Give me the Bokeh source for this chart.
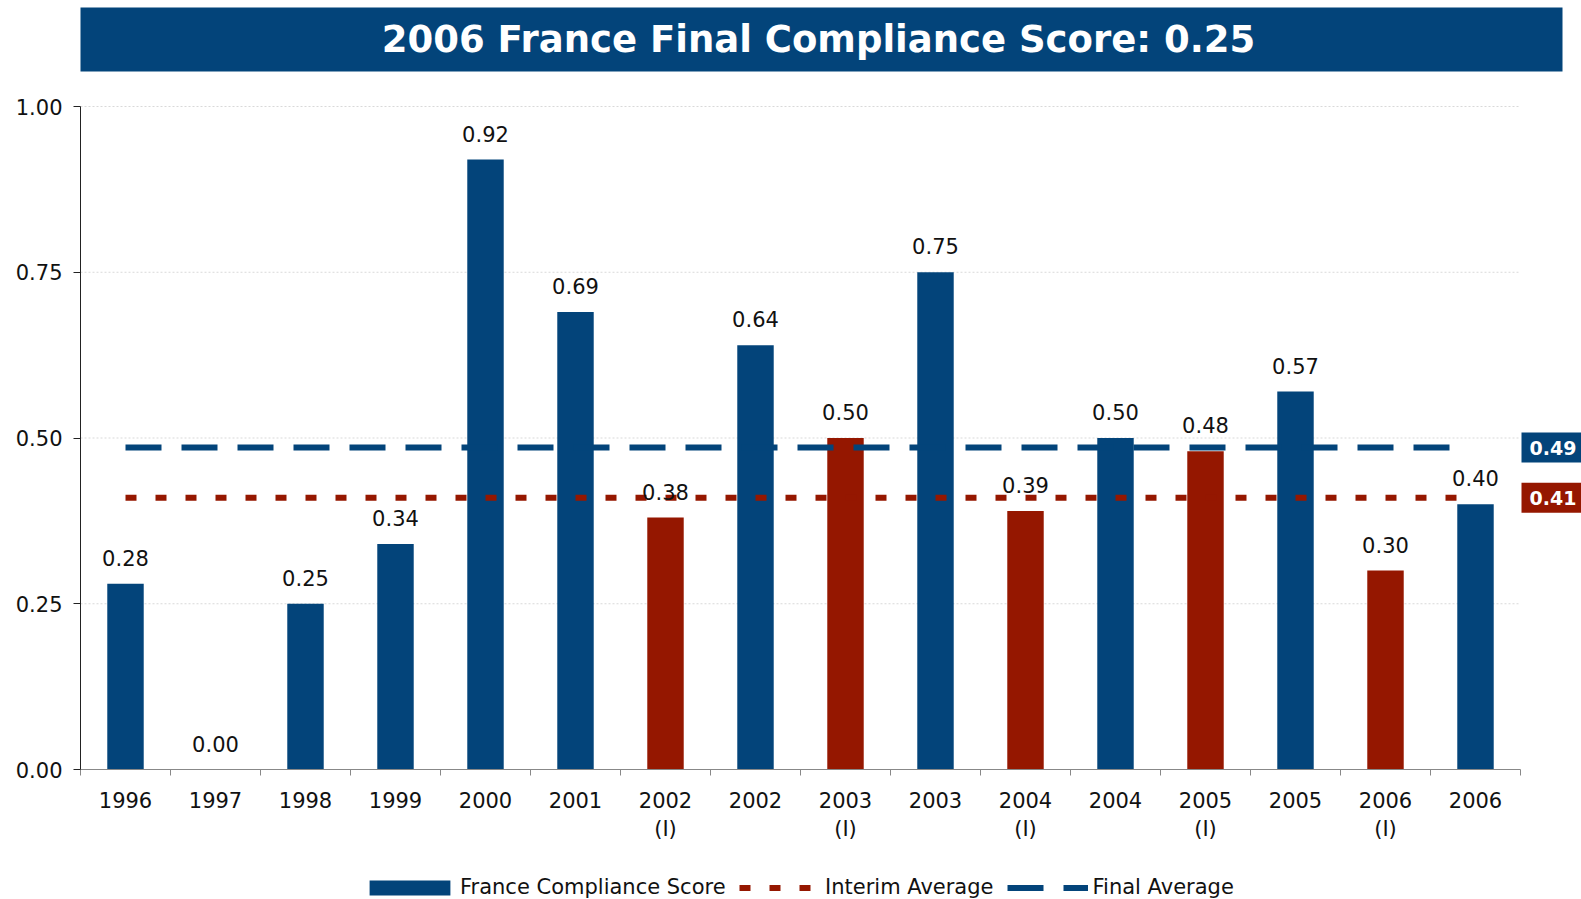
from bokeh.plotting import figure
from bokeh.models import (ColumnDataSource, Range1d, FixedTicker, LinearAxis, LabelSet, Label,
                          Legend, LegendItem, NumeralTickFormatter)
from bokeh.layouts import column
from bokeh.embed import file_html
from bokeh.resources import INLINE
from bokeh.core.properties import value

# ---------------- data ----------------
title_text = "2006 France Final Compliance Score: 0.25"
years = ["1996", "1997", "1998", "1999", "2000", "2001", "2002", "2002",
         "2003", "2003", "2004", "2004", "2005", "2005", "2006", "2006"]
is_interim = [False, False, False, False, False, False, True, False,
              True, False, True, False, True, False, True, False]
scores = [0.28, 0.00, 0.25, 0.34, 0.92, 0.69, 0.38, 0.64,
          0.50, 0.75, 0.39, 0.50, 0.48, 0.57, 0.30, 0.40]
final_average = 0.4855
interim_average = 0.41
y_ticks = [0.0, 0.25, 0.5, 0.75, 1.0]
legend_labels = ["France Compliance Score", "Interim Average", "Final Average"]

# ---------------- style / layout ----------------
BLUE = "#03447A"
RED = "#951700"
FONT = "DejaVu Sans"
W = 1581
H_MAIN = 849
H_LEG = 50
LEFT = 80          # y-axis position (px)
BOTTOM = 769       # x-axis position (px)
CAT_PX = 90        # px per category
UNIT_PX = 663      # px per 1.0 of score
BAR_W = 0.405

n = len(years)
centers = [i + 0.5 for i in range(n)]
bounds = list(range(n + 1))
tick_labels = [y + "\n(I)" if it else y for y, it in zip(years, is_interim)]


def dx(px):  # page pixel -> data x (for decorations only)
    return (px - LEFT) / CAT_PX


def dy(py):  # page pixel -> data y (for decorations only)
    return (BOTTOM - py) / UNIT_PX


# ---------------- main ----------------
p = figure(width=W, height=H_MAIN,
           x_range=Range1d(0, dx(W)), y_range=Range1d(0, dy(0)),
           toolbar_location=None, output_backend="svg",
           x_axis_location=None, y_axis_location=None,
           min_border_left=LEFT, min_border_right=0, min_border_top=0,
           min_border_bottom=H_MAIN - BOTTOM)
p.outline_line_color = None
p.grid.visible = False

xaxis = LinearAxis(ticker=FixedTicker(ticks=centers, minor_ticks=bounds), bounds=(0, n),
                   major_label_overrides={c: t for c, t in zip(centers, tick_labels)},
                   major_tick_line_color=None, major_tick_out=0, major_tick_in=0,
                   minor_tick_out=6, minor_tick_in=0, minor_tick_line_color="#888888",
                   axis_line_color="#888888", major_label_standoff=13,
                   major_label_text_font=FONT, major_label_text_font_size="21px",
                   major_label_text_color="#111111")
p.add_layout(xaxis, "below")

yaxis = LinearAxis(ticker=FixedTicker(ticks=y_ticks), formatter=NumeralTickFormatter(format="0.00"),
                   bounds=(0, 1), major_tick_out=7, major_tick_in=0, minor_tick_line_color=None,
                   axis_line_color="#222222", major_tick_line_color="#222222",
                   major_label_standoff=11, major_label_text_font=FONT,
                   major_label_text_font_size="21px", major_label_text_color="#111111")
p.add_layout(yaxis, "left")

# dotted horizontal grid lines over the category span
grid_y = [t for t in y_ticks if t > 0]
p.segment(x0=[0] * len(grid_y), x1=[n] * len(grid_y), y0=grid_y, y1=grid_y,
          line_color="#d9d9d9", line_width=1, line_dash="2 2")

# title bar
p.quad(left=[dx(74)], right=[dx(1562)], bottom=[dy(71)], top=[dy(7)],
       fill_color=BLUE, line_color=None)
p.text(x=[dx(818)], y=[dy(39)], text=[title_text], text_font=value(FONT),
       text_font_style="bold", text_font_size="37px", text_color="white",
       text_align="center", text_baseline="middle")

fin_src = ColumnDataSource(dict(x=[c for c, i in zip(centers, is_interim) if not i],
                                top=[s for s, i in zip(scores, is_interim) if not i]))
int_src = ColumnDataSource(dict(x=[c for c, i in zip(centers, is_interim) if i],
                                top=[s for s, i in zip(scores, is_interim) if i]))
p.vbar(x="x", top="top", width=BAR_W, source=fin_src, fill_color=BLUE, line_color=None)
p.vbar(x="x", top="top", width=BAR_W, source=int_src, fill_color=RED, line_color=None)

line_x = [centers[0], centers[-1] - BAR_W / 2]
INT_DASH = "11 19"
FIN_DASH = "36 20"
p.line(x=line_x, y=[interim_average] * 2, line_color=RED, line_width=6, line_dash=INT_DASH)
p.line(x=line_x, y=[final_average] * 2, line_color=BLUE, line_width=6, line_dash=FIN_DASH)

lab_src = ColumnDataSource(dict(x=centers, y=scores, t=[f"{s:.2f}" for s in scores]))
p.add_layout(LabelSet(x="x", y="y", text="t", source=lab_src, y_offset=18,
                      text_align="center", text_baseline="alphabetic",
                      text_font=value(FONT), text_font_size="21px", text_color="#111111"))

for avg, col in ((final_average, BLUE), (interim_average, RED)):
    p.add_layout(Label(x=dx(1521), y=avg, text=f"{avg:.2f}", text_align="left",
                       text_baseline="middle", text_font=FONT, text_font_style="bold",
                       text_font_size="19px", text_color="white",
                       background_fill_color=col, padding=8))

# ---------------- legend strip ----------------
# proxies use the same data, but this strip's y-range lies above every value, so
# only the legend samples are visible
lf = figure(width=W, height=H_LEG, x_range=Range1d(0, n), y_range=Range1d(2, 3),
            toolbar_location=None, output_backend="svg",
            x_axis_location=None, y_axis_location=None,
            min_border_left=LEFT, min_border_right=0, min_border_top=0, min_border_bottom=0)
lf.outline_line_color = None
lf.grid.visible = False
g_bar = lf.vbar(x="x", top="top", width=BAR_W, source=ColumnDataSource(dict(fin_src.data)),
                fill_color=BLUE, line_color=None)
g_int = lf.line(x=line_x, y=[interim_average] * 2, line_color=RED, line_width=6,
                line_dash=INT_DASH)
g_fin = lf.line(x=line_x, y=[final_average] * 2, line_color=BLUE, line_width=6,
                line_dash=FIN_DASH)

common = dict(orientation="horizontal", label_standoff=5, spacing=13, padding=0, margin=0,
              border_line_color=None, background_fill_alpha=0, label_text_font=FONT,
              label_text_font_size="21px", label_text_color="#111111")
legend_bar = Legend(items=[LegendItem(label=legend_labels[0], renderers=[g_bar])],
                    location=(359 - LEFT, 0), glyph_width=101, glyph_height=19,
                    **{**common, "label_standoff": 0})
legend_lines = Legend(items=[LegendItem(label=legend_labels[1], renderers=[g_int]),
                             LegendItem(label=legend_labels[2], renderers=[g_fin])],
                      location=(739 - LEFT, 0), glyph_width=81, glyph_height=15, **common)
lf.add_layout(legend_bar, "center")
lf.add_layout(legend_lines, "center")

layout = column(p, lf)
open("out.html", "w").write(file_html(layout, INLINE))
